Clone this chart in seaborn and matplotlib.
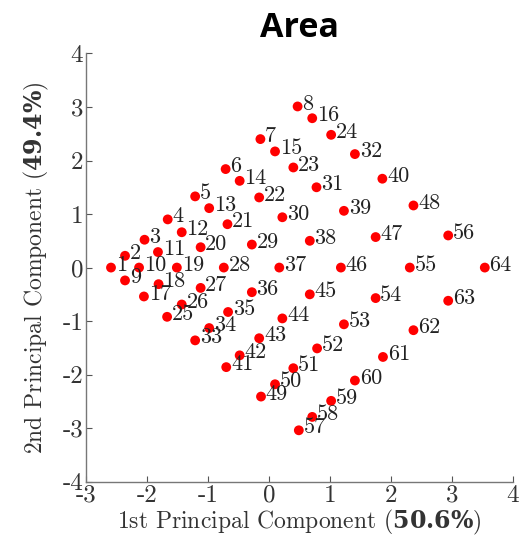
import matplotlib
matplotlib.use("Agg")
import matplotlib.pyplot as plt
import seaborn as sns
import pandas as pd

# Point positions (labels 1..64)
labels = list(range(1, 65))
pc1 = [-2.59, -2.36, -2.04, -1.66, -1.21, -0.71, -0.14, 0.47,
       -2.36, -2.13, -1.82, -1.43, -0.98, -0.48, 0.10, 0.71,
       -2.05, -1.81, -1.51, -1.12, -0.68, -0.16, 0.40, 1.02,
       -1.67, -1.43, -1.12, -0.74, -0.28, 0.22, 0.78, 1.41,
       -1.21, -0.98, -0.67, -0.28, 0.17, 0.67, 1.23, 1.86,
       -0.70, -0.48, -0.16, 0.22, 0.67, 1.18, 1.75, 2.37,
       -0.13, 0.10, 0.40, 0.79, 1.23, 1.75, 2.31, 2.94,
       0.49, 0.71, 1.02, 1.41, 1.87, 2.37, 2.94, 3.54]
pc2 = [0.00, 0.22, 0.52, 0.90, 1.33, 1.84, 2.40, 3.01,
       -0.24, 0.00, 0.29, 0.66, 1.11, 1.62, 2.17, 2.79,
       -0.54, -0.31, 0.00, 0.38, 0.81, 1.31, 1.87, 2.48,
       -0.92, -0.69, -0.38, 0.00, 0.43, 0.94, 1.50, 2.12,
       -1.36, -1.13, -0.83, -0.46, 0.00, 0.50, 1.06, 1.66,
       -1.86, -1.64, -1.32, -0.95, -0.50, 0.00, 0.57, 1.16,
       -2.41, -2.18, -1.88, -1.51, -1.06, -0.57, 0.00, 0.60,
       -3.04, -2.79, -2.49, -2.11, -1.67, -1.17, -0.62, 0.00]

xticks = [-3, -2, -1, 0, 1, 2, 3, 4]
yticks = [-4, -3, -2, -1, 0, 1, 2, 3, 4]

df = pd.DataFrame({"PC1": pc1, "PC2": pc2, "LABEL": labels})

sns.set_style("ticks")
plt.rcParams["font.family"] = ["cmr10", "DejaVu Serif"]
plt.rcParams["mathtext.fontset"] = "custom"
plt.rcParams["mathtext.rm"] = "cmr10"
plt.rcParams["mathtext.bf"] = "DejaVu Serif:bold"
plt.rcParams["axes.unicode_minus"] = False

fig = plt.figure(figsize=(5.26, 5.4), dpi=100)
ax = fig.add_axes([0.1635, 0.108, 0.8115, 0.793])

sns.scatterplot(data=df, x="PC1", y="PC2", color="red", s=50,
                edgecolor="none", ax=ax, zorder=3)

for lab, x, y in zip(labels, pc1, pc2):
    ax.annotate(str(lab), (x, y), xytext=(3.4, -2.2), textcoords="offset points",
                ha="left", va="baseline", fontsize=16, color="#222222", zorder=4)

ax.set_xlim(-3, 4)
ax.set_ylim(-4, 4)
ax.set_xticks(xticks)
ax.set_yticks(yticks)
ax.set_xticklabels([str(t) for t in xticks])
ax.set_yticklabels([str(t) for t in yticks])
ax.tick_params(direction="in", length=4, width=0.8, color="#555555",
               labelsize=18, labelcolor="#333333", pad=2)
for side in ["top", "right"]:
    ax.spines[side].set_visible(False)
for side in ["left", "bottom"]:
    ax.spines[side].set_color("#777777")
    ax.spines[side].set_linewidth(1.0)

ax.set_xlabel(r"1st Principal Component ($\mathbf{50.6\%}$)", fontsize=17,
              color="#333333", labelpad=1)
ax.set_ylabel(r"2nd Principal Component ($\mathbf{49.4\%}$)", fontsize=17,
              color="#333333", labelpad=8)
ax.set_title("Area", fontsize=24.5, fontweight="bold", family="Open Sans",
             color="black", pad=12)

fig.savefig("out.png", dpi=100)
